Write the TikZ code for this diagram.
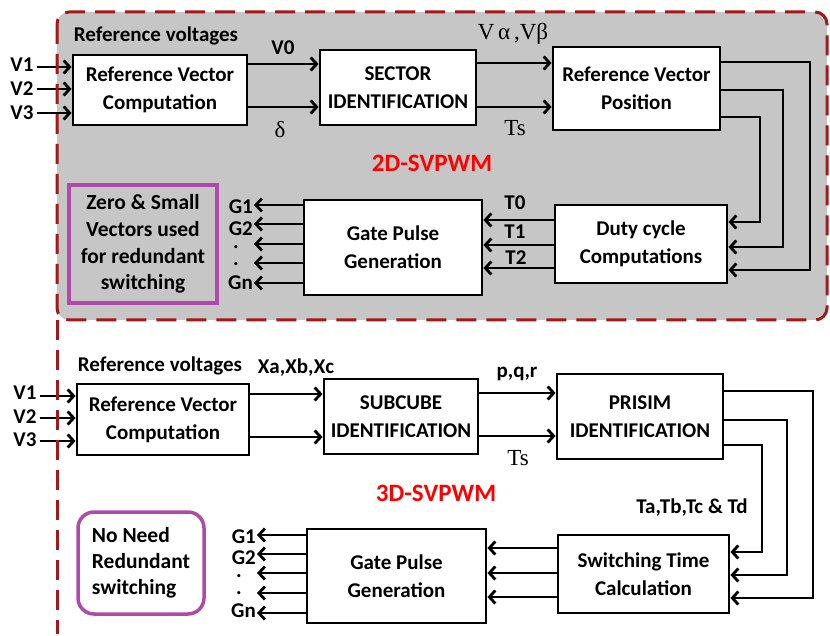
\documentclass[tikz,border=0pt]{standalone}
\usepackage{fontspec}
\setmainfont{Carlito}
\newfontfamily\tnr{Liberation Serif}
\usetikzlibrary{arrows.meta}
\definecolor{framered}{HTML}{A31818}
\definecolor{panelgray}{HTML}{C6C6C6}
\definecolor{notepurple}{HTML}{B04AAA}
\tikzset{
  box/.style={draw=black, line width=2.8pt, fill=white, align=center, inner sep=0pt,
    font=\bfseries\fontsize{21}{28}\selectfont},
  arr/.style={line width=2.8pt, -{Straight Barb[length=6pt,width=13pt]}},
  lbl/.style={font=\bfseries\fontsize{21}{22}\selectfont, inner sep=1pt},
  dotlbl/.style={font=\bfseries\fontsize{21}{22}\selectfont, inner sep=0pt, text height=3pt, text depth=0pt},
  tms/.style={font=\tnr\fontsize{23}{25}\selectfont, inner sep=1pt},
  title/.style={font=\bfseries\fontsize{25}{28}\selectfont, text=red},
  frameline/.style={draw=framered, line width=3pt, dash pattern=on 20pt off 10pt},
}
\begin{document}
\begin{tikzpicture}[x=1pt,y=-1pt]
\useasboundingbox (0,0) rectangle (830,636);
% panel
\fill[panelgray, rounded corners=12pt] (57,12) rectangle (827,320);

% ---------- 2D-SVPWM ----------
\node[lbl] at (156,36) {Reference voltages};
\node[box, minimum width=174pt, minimum height=70pt] (rvca) at (160,90) {Reference Vector\\Computation};
\node[box, minimum width=156pt, minimum height=75pt] (sec) at (398,87.5) {SECTOR\\IDENTIFICATION};
\node[box, minimum width=167pt, minimum height=83pt] (rvp) at (636.5,88.5) {Reference Vector\\Position};
\node[box, minimum width=172pt, minimum height=78pt] (duty) at (641,244) {Duty cycle\\Computations};
\node[box, minimum width=178pt, minimum height=95pt] (gatea) at (393,247.5) {Gate Pulse\\Generation};
\node[draw=notepurple, line width=3.5pt, fill=panelgray, minimum width=148pt, minimum height=118pt,
  align=center, inner sep=0pt, font=\bfseries\fontsize{21.5}{26.7}\selectfont] (zero) at (143,244)
  {Zero \& Small\\Vectors used\\for redundant\\switching};
\node[title] (t2d) at (432,163) {2D-SVPWM};

\node[lbl, inner sep=3pt] (va1) at (22,65) {V1};
\node[lbl, inner sep=3pt] (va2) at (22,89) {V2};
\node[lbl, inner sep=3pt] (va3) at (22,113) {V3};
\draw[arr] (va1.east |- 0,67) -- (rvca.west |- 0,67);
\draw[arr] (va2.east |- 0,89) -- (rvca.west |- 0,89);
\draw[arr] (va3.east |- 0,113) -- (rvca.west |- 0,113);

\node[lbl] (v0) at (283,48) {V0};
\node[tms] (dlt) at (280,130) {δ};
\draw[arr] (rvca.east |- 0,64) -- (sec.west |- 0,64);
\draw[arr] (rvca.east |- 0,107) -- (sec.west |- 0,107);

\node[tms] (vab) at (513,34) {V\,α\,,Vβ};
\node[tms] (tsa) at (515,128) {Ts};
\draw[arr] (sec.east |- 0,63) -- (rvp.west |- 0,63);
\draw[arr] (sec.east |- 0,107) -- (rvp.west |- 0,107);

\draw[arr] (rvp.east |- 0,62) -- (810,62) -- (810,270) -- (duty.east |- 0,270);
\draw[arr] (rvp.east |- 0,90) -- (783,90) -- (783,247) -- (duty.east |- 0,247);
\draw[arr] (rvp.east |- 0,117) -- (760,117) -- (760,222) -- (duty.east |- 0,222);

\node[lbl] (t0) at (515,203) {T0};
\node[lbl] (t1) at (515,232) {T1};
\node[lbl] (t2) at (516,258) {T2};
\draw[arr] (duty.west |- 0,220) -- (gatea.east |- 0,220);
\draw[arr] (duty.west |- 0,245) -- (gatea.east |- 0,245);
\draw[arr] (duty.west |- 0,268) -- (gatea.east |- 0,268);

\node[lbl, anchor=east] (ga1) at (254,207) {G1};
\node[lbl, anchor=east] (ga2) at (254,229) {G2};
\node[dotlbl] (gad1) at (236,247) {.};
\node[dotlbl] (gad2) at (236,264) {.};
\node[lbl, anchor=east] (gan) at (254,283) {Gn};
\draw[arr] (gatea.west |- 0,205) -- (ga1.east |- 0,205);
\draw[arr] (gatea.west |- 0,224) -- (ga1.east |- 0,224);
\draw[arr] (gatea.west |- 0,244) -- (ga1.east |- 0,244);
\draw[arr] (gatea.west |- 0,263) -- (ga1.east |- 0,263);
\draw[arr] (gatea.west |- 0,283) -- (ga1.east |- 0,283);

% ---------- 3D-SVPWM ----------
\node[lbl] at (160,366) {Reference voltages};
\node[box, minimum width=172pt, minimum height=71pt] (rvcb) at (163,419.5) {Reference Vector\\Computation};
\node[box, minimum width=154pt, minimum height=75pt] (sub) at (401,416.5) {SUBCUBE\\IDENTIFICATION};
\node[box, minimum width=166pt, minimum height=85pt] (pri) at (640,416.5) {PRISIM\\IDENTIFICATION};
\node[box, minimum width=171pt, minimum height=78pt] (sw) at (643.5,574) {Switching Time\\Calculation};
\node[box, minimum width=179pt, minimum height=94pt] (gateb) at (396.5,576) {Gate Pulse\\Generation};
\node[draw=notepurple, line width=3.5pt, fill=white, rounded corners=16pt, minimum width=126pt,
  minimum height=102pt, align=left, inner sep=0pt, font=\bfseries\fontsize{21.5}{26}\selectfont]
  (nn) at (141,563) {No Need\\Redundant\\switching};
\node[title] (t3d) at (436,493) {3D-SVPWM};

\node[lbl, inner sep=3pt] (vb1) at (25,393) {V1};
\node[lbl, inner sep=3pt] (vb2) at (25,417) {V2};
\node[lbl, inner sep=3pt] (vb3) at (25,440) {V3};
\draw[arr] (vb1.east |- 0,396) -- (rvcb.west |- 0,396);
\draw[arr] (vb2.east |- 0,418) -- (rvcb.west |- 0,418);
\draw[arr] (vb3.east |- 0,441) -- (rvcb.west |- 0,441);

\node[lbl] (xabc) at (296,368) {Xa,Xb,Xc};
\draw[arr] (rvcb.east |- 0,394) -- (sub.west |- 0,394);
\draw[arr] (rvcb.east |- 0,437) -- (sub.west |- 0,437);

\node[lbl] (pqr) at (517,374) {p,q,r};
\node[tms] (tsb) at (518,458) {Ts};
\draw[arr] (sub.east |- 0,393) -- (pri.west |- 0,393);
\draw[arr] (sub.east |- 0,436) -- (pri.west |- 0,436);

\draw[arr] (pri.east |- 0,391) -- (813,391) -- (813,598) -- (sw.east |- 0,598);
\draw[arr] (pri.east |- 0,420) -- (787,420) -- (787,575) -- (sw.east |- 0,575);
\draw[arr] (pri.east |- 0,445) -- (762,445) -- (762,552) -- (sw.east |- 0,552);
\node[lbl] (tabcd) at (692,508) {Ta,Tb,Tc \& Td};

\draw[arr] (sw.west |- 0,548) -- (gateb.east |- 0,548);
\draw[arr] (sw.west |- 0,573) -- (gateb.east |- 0,573);
\draw[arr] (sw.west |- 0,597) -- (gateb.east |- 0,597);

\node[lbl, anchor=east] (gb1) at (257,537) {G1};
\node[lbl, anchor=east] (gb2) at (257,558) {G2};
\node[dotlbl] (gbd1) at (239,576) {.};
\node[dotlbl] (gbd2) at (239,593) {.};
\node[lbl, anchor=east] (gbn) at (257,611) {Gn};
\draw[arr] (gateb.west |- 0,535) -- (gb1.east |- 0,535);
\draw[arr] (gateb.west |- 0,554) -- (gb1.east |- 0,554);
\draw[arr] (gateb.west |- 0,573) -- (gb1.east |- 0,573);
\draw[arr] (gateb.west |- 0,593) -- (gb1.east |- 0,593);
\draw[arr] (gateb.west |- 0,613) -- (gb1.east |- 0,613);

% frames
\draw[frameline, rounded corners=12pt] (57,12) rectangle (827,320);
\draw[frameline] (57,320) -- (57,634);
\end{tikzpicture}
\end{document}
